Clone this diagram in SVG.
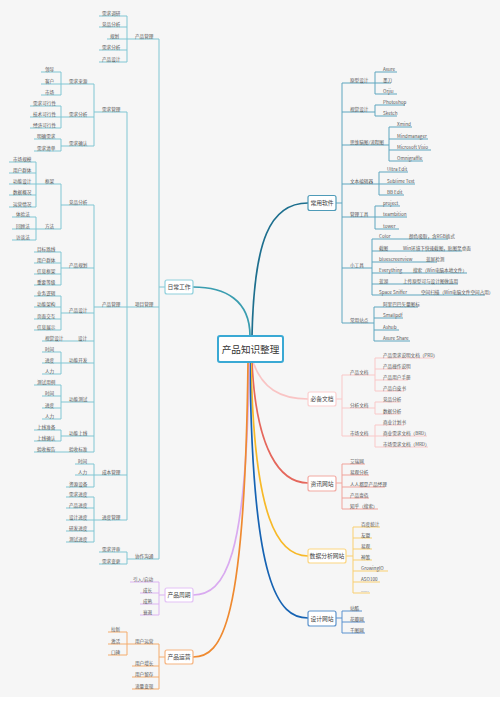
<svg xmlns="http://www.w3.org/2000/svg" width="500" height="703" viewBox="0 0 500 703">
<style>
text{font-family:"Noto Sans CJK SC","Noto Sans",sans-serif}
.t{font-size:4.6px;fill:#555}
.b{font-size:5.8px;fill:#444;text-anchor:middle}
.c{font-size:9.6px;fill:#333;text-anchor:middle}
path{fill:none}
.lt{stroke:#80c6d3;stroke-width:1}
.lp{stroke:#dcb3f2;stroke-width:1}
.lo{stroke:#f4ac6c;stroke-width:1}
.lr{stroke:#5ea6bf;stroke-width:1}
.lk{stroke:#f9c8c8;stroke-width:1}
.ls{stroke:#f0a39b;stroke-width:1}
.ly{stroke:#f9cf70;stroke-width:1}
.lb{stroke:#5a92cf;stroke-width:1}
.m{stroke-width:1.7;stroke-linecap:round}
.box{fill:#fff;stroke-width:1.2}
</style>
<rect x="0" y="0" width="500" height="703" fill="#ffffff"/>
<rect x="0" y="0" width="500" height="697" fill="#f6f6f6"/>
<g id="connectors">
<path class="m" stroke="#3a9db0" d="M250 336C250 300 225 287 193 287"/>
<path class="m" stroke="#1d6f8e" d="M252 336C254 240 270 203 308 203"/>
<path class="m" stroke="#f9c4c4" d="M253 362C262 388 280 399 308 399"/>
<path class="m" stroke="#e5675c" d="M252 362C256 450 280 483 308 483"/>
<path class="m" stroke="#f7b928" d="M251 362C254 520 278 556 308 556"/>
<path class="m" stroke="#1663b3" d="M250 362C252 585 278 618 308 618"/>
<path class="m" stroke="#d9aaf0" d="M249 362C247 560 225 595 193 595"/>
<path class="m" stroke="#ef8a30" d="M248 362C245 625 222 657 193 657"/>
<path class="lt" d="M159 39V559M159 287H165M127 39H159M127 16V62M99 16H127M99 27H127M107 39H127M99 50H127M99 62H127M127 307H159M127 112V520M127 559H159M127 552V564M99 552H127M99 564H127M94 112H127M94 84V146M61 84H94M61 72V95M41 72H61M41 84H61M41 95H61M61 117H94M61 106V128M30 106H61M30 117H61M30 128H61M61 146H94M61 139V151M34 139H61M34 151H61M94 307H127M94 205V452M61 205H94M61 184V229M36 184H61M36 162V207M9 162H36M9 173H36M9 184H36M9 195H36M9 207H36M36 229H61M36 217V240M12 217H36M12 229H36M12 240H36M61 268H94M61 252V285M34 252H61M34 263H61M34 274H61M34 285H61M61 313H94M61 296V330M34 296H61M34 307H61M34 319H61M34 330H61M42 341H94M61 363H94M61 352V374M42 352H61M42 363H61M42 374H61M61 402H94M61 385V419M34 385H61M42 396H61M42 408H61M42 419H61M61 436H94M61 430V441M34 430H61M34 441H61M34 452H94M94 475H127M94 464V487M75 464H94M75 475H94M66 487H94M94 520H127M94 497V542M66 497H94M66 508H94M66 520H94M66 531H94M66 542H94"/>
<path class="lp" d="M159 595H165M159 582V615M130 582H159M140 593H159M140 604H159M140 615H159"/>
<path class="lo" d="M159 657H165M159 644V689M127 644H159M127 632V655M108 632H127M108 644H127M108 655H127M132 666H159M132 677H159M132 689H159"/>
<path class="lr" d="M336 203H342M342 83V323M342 83H375M375 72V94M375 72H397M375 83H391M375 94H397M342 112H375M375 105V116M375 105H405M375 116H397M342 145H389M389 127V161M389 127H412M389 139H428M389 150H431M389 161H423M342 184H379M379 172V195M379 172H408M379 184H415M379 195H404M342 217H375M375 206V229M375 206H400M375 217H407M375 229H399M342 268H372M372 239V295M372 239H448M372 251H462M372 262H437M372 273H467M372 284H458M372 295H485M342 323H374M374 307V341M374 307H418M374 318H403M374 330H399M374 341H410"/>
<path class="lk" d="M336 399H342M342 375V436M342 375H375M375 358V391M375 358H434M375 369H408M375 380H408M375 391H404M342 408H375M375 402V414M375 402H400M375 414H400M342 436H375M375 425V447M375 425H404M375 436H427M375 447H428"/>
<path class="ls" d="M336 483H342M342 464V509M342 464H365M342 475H369M342 487H385M342 498H369M342 509H378"/>
<path class="ly" d="M346 556H353M353 527V593M353 527H380M353 538H372M353 549H372M353 560H372M353 571H388M353 582H380M353 593H370"/>
<path class="lb" d="M336 618H342M342 611V633M342 611H362M342 622H365M342 633H365"/>
</g>
<g id="center"><rect x="218" y="336" width="65" height="26" rx="2" fill="#fff" stroke="#3aa9d4" stroke-width="2"/><text class="c" x="250.5" y="352.5">产品知识整理</text></g>
<g id="richang"><rect class="box" x="165" y="280" width="28" height="14" rx="2" stroke="#8fd0dc"/><text class="b" x="179" y="289.2">日常工作</text></g>
<g id="changyong"><rect class="box" x="308" y="195.5" width="28" height="15" rx="2" stroke="#4f9bb8"/><text class="b" x="322" y="205.2">常用软件</text></g>
<g id="bibei"><rect class="box" x="308" y="392" width="28" height="14" rx="2" stroke="#fbcfcf"/><text class="b" x="322" y="401.2">必备文档</text></g>
<g id="zixun"><rect class="box" x="308" y="476" width="28" height="15" rx="2" stroke="#f2a9a2"/><text class="b" x="322" y="485.7">资讯网站</text></g>
<g id="shuju"><rect class="box" x="308" y="549" width="38" height="14" rx="2" stroke="#fcd680"/><text class="b" x="327" y="558.2">数据分析网站</text></g>
<g id="sheji"><rect class="box" x="308" y="611" width="28" height="15" rx="2" stroke="#5d93cc"/><text class="b" x="322" y="620.7">设计网站</text></g>
<g id="zhouqi"><rect class="box" x="165" y="588" width="28" height="14" rx="2" stroke="#e3c2f5"/><text class="b" x="179" y="597.2">产品周期</text></g>
<g id="yunying"><rect class="box" x="165" y="650" width="28" height="14" rx="2" stroke="#f5b480"/><text class="b" x="179" y="659.2">产品运营</text></g>
<g id="left-nodes" class="t">
<g id="n-cpgl"><text class="t" x="135" y="37.7">产品管理</text></g>
<g id="n-xqdy"><text class="t" x="102" y="14.7">需求调研</text></g>
<g id="n-jpfx1"><text class="t" x="102" y="25.7">竞品分析</text></g>
<g id="n-gh"><text class="t" x="110" y="37.7">规划</text></g>
<g id="n-xqfx1"><text class="t" x="102" y="48.7">需求分析</text></g>
<g id="n-cpsj1"><text class="t" x="102" y="60.7">产品设计</text></g>
<g id="n-xmgl"><text class="t" x="135" y="305.7">项目管理</text></g>
<g id="n-xzgt"><text class="t" x="135" y="557.7">协作沟通</text></g>
<g id="n-xqps"><text class="t" x="102" y="550.7">需求评审</text></g>
<g id="n-xqbg"><text class="t" x="102" y="562.7">需求变更</text></g>
<g id="n-xqgl"><text class="t" x="102" y="110.7">需求管理</text></g>
<g id="n-xqly"><text class="t" x="69" y="82.7">需求来源</text></g>
<g id="n-ld"><text class="t" x="45" y="70.7">领导</text></g>
<g id="n-kh"><text class="t" x="45" y="82.7">客户</text></g>
<g id="n-sc"><text class="t" x="45" y="93.7">市场</text></g>
<g id="n-xqfx2"><text class="t" x="69" y="115.7">需求分析</text></g>
<g id="n-xqkx"><text class="t" x="33" y="104.7">需求可行性</text></g>
<g id="n-jskx"><text class="t" x="33" y="115.7">技术可行性</text></g>
<g id="n-jjkx"><text class="t" x="33" y="126.7">经济可行性</text></g>
<g id="n-xqqr"><text class="t" x="69" y="144.7">需求确认</text></g>
<g id="n-mqxq"><text class="t" x="37" y="137.7">明确需求</text></g>
<g id="n-xqqd"><text class="t" x="37" y="149.7">需求清单</text></g>
<g id="n-cpgl2"><text class="t" x="102" y="305.7">产品管理</text></g>
<g id="n-jpfx2"><text class="t" x="69" y="203.7">竞品分析</text></g>
<g id="n-kj"><text class="t" x="45" y="182.7">框架</text></g>
<g id="n-scgm"><text class="t" x="13" y="160.7">市场规模</text></g>
<g id="n-yhqt1"><text class="t" x="13" y="171.7">用户群体</text></g>
<g id="n-gnsj"><text class="t" x="13" y="182.7">功能设计</text></g>
<g id="n-sjgk"><text class="t" x="13" y="193.7">数据概况</text></g>
<g id="n-yyqk"><text class="t" x="13" y="205.7">运营情况</text></g>
<g id="n-ff"><text class="t" x="45" y="227.7">方法</text></g>
<g id="n-tyf"><text class="t" x="16" y="215.7">体验法</text></g>
<g id="n-hgf"><text class="t" x="16" y="227.7">回顾法</text></g>
<g id="n-ftf"><text class="t" x="16" y="238.7">访谈法</text></g>
<g id="n-cpgh"><text class="t" x="69" y="266.7">产品规划</text></g>
<g id="n-mblx"><text class="t" x="37" y="250.7">目标路线</text></g>
<g id="n-yhqt2"><text class="t" x="37" y="261.7">用户群体</text></g>
<g id="n-xxkj"><text class="t" x="37" y="272.7">信息框架</text></g>
<g id="n-zydj"><text class="t" x="37" y="283.7">重要等级</text></g>
<g id="n-cpsj2"><text class="t" x="69" y="311.7">产品设计</text></g>
<g id="n-ywlj"><text class="t" x="37" y="294.7">业务逻辑</text></g>
<g id="n-gnjg"><text class="t" x="37" y="305.7">功能架构</text></g>
<g id="n-ymjh"><text class="t" x="37" y="317.7">页面交互</text></g>
<g id="n-xxzs"><text class="t" x="37" y="328.7">信息展示</text></g>
<g id="n-sj"><text class="t" x="78" y="339.7">设计</text></g>
<g id="n-sjsj"><text class="t" x="45" y="339.7">视觉设计</text></g>
<g id="n-gnkf"><text class="t" x="69" y="361.7">功能开发</text></g>
<g id="n-sj1"><text class="t" x="45" y="350.7">时间</text></g>
<g id="n-jd1"><text class="t" x="45" y="361.7">进度</text></g>
<g id="n-rl1"><text class="t" x="45" y="372.7">人力</text></g>
<g id="n-gncs"><text class="t" x="69" y="400.7">功能测试</text></g>
<g id="n-csyl"><text class="t" x="37" y="383.7">测试用例</text></g>
<g id="n-sj2"><text class="t" x="45" y="394.7">时间</text></g>
<g id="n-jd2"><text class="t" x="45" y="406.7">进度</text></g>
<g id="n-rl2"><text class="t" x="45" y="417.7">人力</text></g>
<g id="n-gnsx"><text class="t" x="69" y="434.7">功能上线</text></g>
<g id="n-sxzb"><text class="t" x="37" y="428.7">上线准备</text></g>
<g id="n-sxqr"><text class="t" x="37" y="439.7">上线确认</text></g>
<g id="n-ysbz"><text class="t" x="69" y="450.7">验收标准</text></g>
<g id="n-ysbg"><text class="t" x="37" y="450.7">验收报告</text></g>
<g id="n-cbgl"><text class="t" x="102" y="473.7">成本管理</text></g>
<g id="n-sj3"><text class="t" x="78" y="462.7">时间</text></g>
<g id="n-rl3"><text class="t" x="78" y="473.7">人力</text></g>
<g id="n-zysb"><text class="t" x="69" y="485.7">资源设备</text></g>
<g id="n-jdgl"><text class="t" x="102" y="518.7">进度管理</text></g>
<g id="n-xqjd"><text class="t" x="69" y="495.7">需求进度</text></g>
<g id="n-cpjd"><text class="t" x="69" y="506.7">产品进度</text></g>
<g id="n-sjjd"><text class="t" x="69" y="518.7">设计进度</text></g>
<g id="n-yfjd"><text class="t" x="69" y="529.7">研发进度</text></g>
<g id="n-csjd"><text class="t" x="69" y="540.7">测试进度</text></g>
<g id="n-yrqd"><text class="t" x="133" y="580.7">引入/启动</text></g>
<g id="n-cz"><text class="t" x="143" y="591.7">成长</text></g>
<g id="n-cs"><text class="t" x="143" y="602.7">成熟</text></g>
<g id="n-st"><text class="t" x="143" y="613.7">衰退</text></g>
<g id="n-yhyy"><text class="t" x="135" y="642.7">用户运营</text></g>
<g id="n-lx"><text class="t" x="111" y="630.7">拉新</text></g>
<g id="n-jh"><text class="t" x="111" y="642.7">激活</text></g>
<g id="n-kb"><text class="t" x="111" y="653.7">口碑</text></g>
<g id="n-yhzz"><text class="t" x="135" y="664.7">用户增长</text></g>
<g id="n-yhlc"><text class="t" x="135" y="675.7">用户留存</text></g>
<g id="n-llbx"><text class="t" x="135" y="687.7">流量变现</text></g>
</g>
<g id="right-nodes">
<g id="n-yxsj"><text class="t" x="350" y="81.7">原型设计</text></g>
<g id="n-axure"><text class="t" x="383" y="70.7">Axure</text></g>
<g id="n-md"><text class="t" x="383" y="81.7">墨刀</text></g>
<g id="n-orjiu"><text class="t" x="383" y="92.7">Orjiu</text></g>
<g id="n-sjsj2"><text class="t" x="350" y="110.7">视觉设计</text></g>
<g id="n-ps"><text class="t" x="383" y="103.7">Photoshop</text></g>
<g id="n-sketch"><text class="t" x="383" y="114.7">Sketch</text></g>
<g id="n-swnt"><text class="t" x="350" y="143.7">思维脑图/流程图</text></g>
<g id="n-xmind"><text class="t" x="397" y="125.7">Xmind</text></g>
<g id="n-mm"><text class="t" x="397" y="137.7">Mindmanager</text></g>
<g id="n-visio"><text class="t" x="397" y="148.7">Microsoft Visio</text></g>
<g id="n-omni"><text class="t" x="397" y="159.7">Omnigraffle</text></g>
<g id="n-wbbj"><text class="t" x="350" y="182.7">文本编辑器</text></g>
<g id="n-ue"><text class="t" x="387" y="170.7">Ultra Edit</text></g>
<g id="n-st2"><text class="t" x="387" y="182.7">Sublime Text</text></g>
<g id="n-bb"><text class="t" x="387" y="193.7">BB Edit</text></g>
<g id="n-gljj"><text class="t" x="350" y="215.7">管理工具</text></g>
<g id="n-proj"><text class="t" x="383" y="204.7">project</text></g>
<g id="n-tb"><text class="t" x="383" y="215.7">teambition</text></g>
<g id="n-tower"><text class="t" x="383" y="227.7">tower</text></g>
<g id="n-xgj"><text class="t" x="350" y="266.7">小工具</text></g>
<g id="n-color"><text class="t" x="379" y="237.7">Color</text><text class="t" x="409" y="237.7">颜色吸取，含RGB格式</text></g>
<g id="n-jt"><text class="t" x="379" y="249.7">截图</text><text class="t" x="403" y="249.7">Win环境下快速截图，贴图至桌面</text></g>
<g id="n-bsv"><text class="t" x="379" y="260.7">bluescreenview</text><text class="t" x="426" y="260.7">蓝屏检测</text></g>
<g id="n-every"><text class="t" x="379" y="271.7">Everything</text><text class="t" x="413" y="271.7">搜索（Win电脑本地文件）</text></g>
<g id="n-lh"><text class="t" x="379" y="282.7">蓝湖</text><text class="t" x="403" y="282.7">上传原型可与设计图做连用</text></g>
<g id="n-ss"><text class="t" x="379" y="293.7">Space Sniffer</text><text class="t" x="421" y="293.7">空间扫描（Win电脑文件空间占用）</text></g>
<g id="n-cyzd"><text class="t" x="350" y="321.7">常用站点</text></g>
<g id="n-albb"><text class="t" x="383" y="305.7">阿里巴巴矢量图标</text></g>
<g id="n-spdf"><text class="t" x="383" y="316.7">Smallpdf</text></g>
<g id="n-ashub"><text class="t" x="383" y="328.7">Ashub</text></g>
<g id="n-axs"><text class="t" x="383" y="339.7">Axure Share</text></g>
<g id="n-cpwd"><text class="t" x="350" y="373.7">产品文档</text></g>
<g id="n-prd"><text class="t" x="383" y="356.7">产品需求说明文档（PRD）</text></g>
<g id="n-czsm"><text class="t" x="383" y="367.7">产品操作说明</text></g>
<g id="n-yhsc"><text class="t" x="383" y="378.7">产品用户手册</text></g>
<g id="n-bps"><text class="t" x="383" y="389.7">产品白皮书</text></g>
<g id="n-fxwd"><text class="t" x="350" y="406.7">分析文档</text></g>
<g id="n-jpfx3"><text class="t" x="383" y="400.7">竞品分析</text></g>
<g id="n-sjfx"><text class="t" x="383" y="412.7">数据分析</text></g>
<g id="n-scwd"><text class="t" x="350" y="434.7">市场文档</text></g>
<g id="n-syjh"><text class="t" x="383" y="423.7">商业计划书</text></g>
<g id="n-brd"><text class="t" x="383" y="434.7">商业需求文档（BRD）</text></g>
<g id="n-mrd"><text class="t" x="383" y="445.7">市场需求文档（MRD）</text></g>
<g id="n-arw"><text class="t" x="350" y="462.7">艾瑞网</text></g>
<g id="n-ygfx"><text class="t" x="350" y="473.7">易观分析</text></g>
<g id="n-rrdp"><text class="t" x="350" y="485.7">人人都是产品经理</text></g>
<g id="n-cpyb"><text class="t" x="350" y="496.7">产品壹佰</text></g>
<g id="n-zh"><text class="t" x="350" y="507.7">知乎（搜索）</text></g>
<g id="n-bdtj"><text class="t" x="361" y="525.7">百度统计</text></g>
<g id="n-ym"><text class="t" x="361" y="536.7">友盟</text></g>
<g id="n-yg"><text class="t" x="361" y="547.7">易观</text></g>
<g id="n-sc2"><text class="t" x="361" y="558.7">神策</text></g>
<g id="n-gio"><text class="t" x="361" y="569.7">GrowingIO</text></g>
<g id="n-aso"><text class="t" x="361" y="580.7">ASO100</text></g>
<g id="n-etc"><text class="t" x="361" y="591.7">......</text></g>
<g id="n-zk"><text class="t" x="350" y="609.7">站酷</text></g>
<g id="n-hbw"><text class="t" x="350" y="620.7">花瓣网</text></g>
<g id="n-qtw"><text class="t" x="350" y="631.7">千图网</text></g>
</g>
</svg>
